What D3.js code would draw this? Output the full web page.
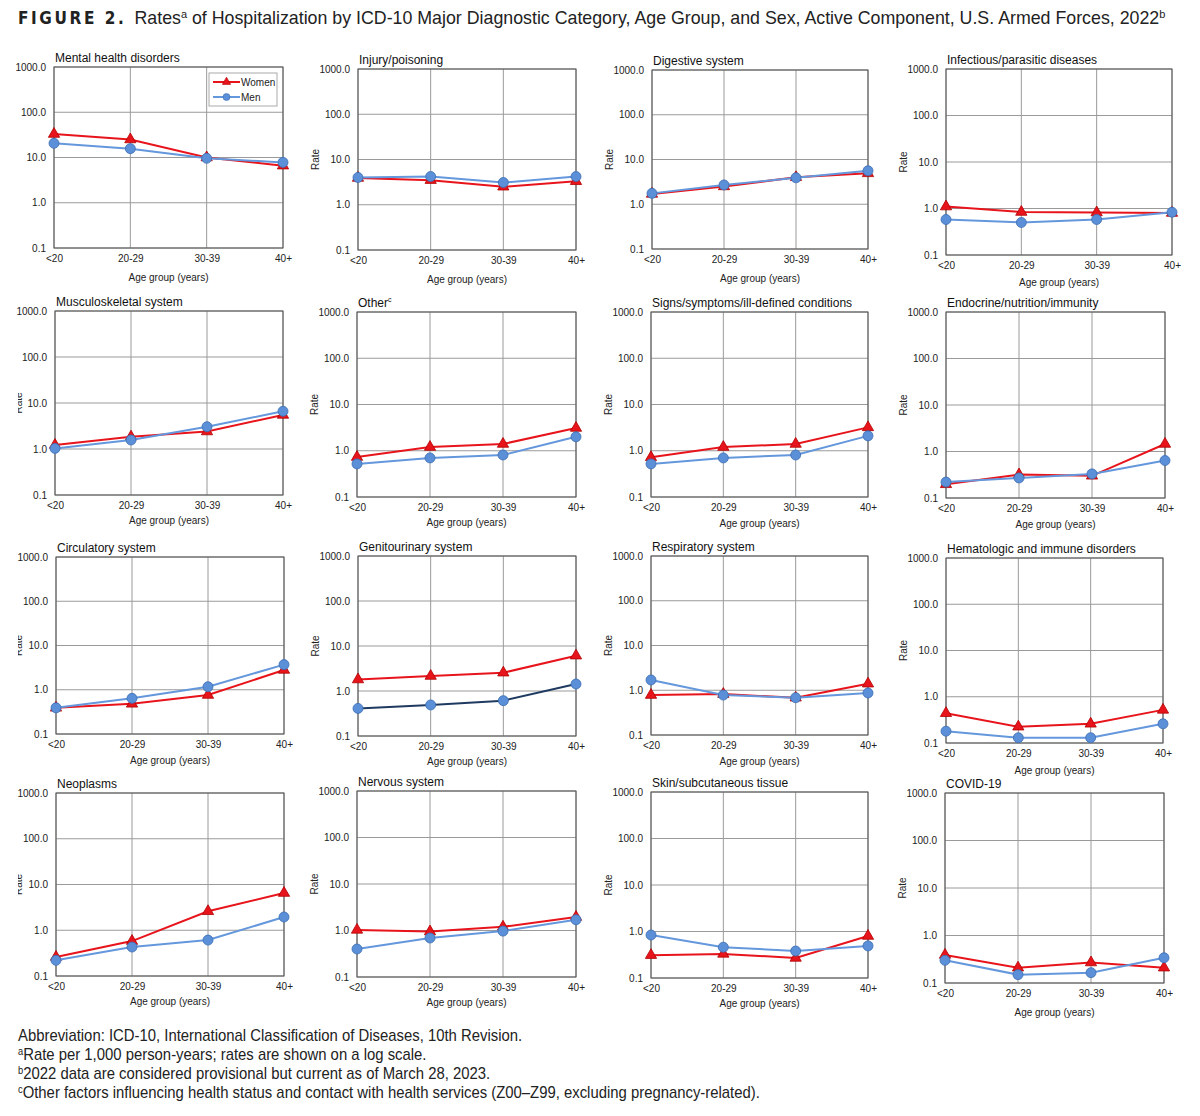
<!DOCTYPE html>
<html>
<head>
<meta charset="utf-8">
<script src="https://cdn.jsdelivr.net/npm/d3@7"></script>
<style>
  html, body { margin: 0; padding: 0; background: #fff; }
  svg { display: block; }
  .narrow { font-family: "Liberation Sans Narrow", "Arial Narrow", "Liberation Sans", Arial, sans-serif; }
  .sans { font-family: "Liberation Sans", Arial, sans-serif; }
</style>
</head>
<body>
<svg id="chart" width="1200" height="1116"></svg>
<script>
// ---------------- DATA ----------------
const ageGroups = ["<20", "20-29", "30-39", "40+"];
const seriesNames = ["Women", "Men"];
const categories = [
  "Mental health disorders", "Injury/poisoning", "Digestive system", "Infectious/parasitic diseases",
  "Musculoskeletal system", "Other", "Signs/symptoms/ill-defined conditions", "Endocrine/nutrition/immunity",
  "Circulatory system", "Genitourinary system", "Respiratory system", "Hematologic and immune disorders",
  "Neoplasms", "Nervous system", "Skin/subcutaneous tissue", "COVID-19"
];
const categoryNotes = ["", "", "", "", "", "c", "", "", "", "", "", "", "", "", "", ""];
const womenRates = [
  [33.0, 25.0, 10.0, 6.6],
  [3.9, 3.5, 2.5, 3.3],
  [1.7, 2.5, 4.0, 4.9],
  [1.1, 0.84, 0.82, 0.80],
  [1.22, 1.85, 2.4, 5.5],
  [0.73, 1.2, 1.4, 3.1],
  [0.72, 1.2, 1.4, 3.2],
  [0.197, 0.32, 0.30, 1.45],
  [0.39, 0.48, 0.76, 2.8],
  [1.8, 2.15, 2.55, 6.1],
  [0.78, 0.82, 0.68, 1.4],
  [0.44, 0.225, 0.26, 0.52],
  [0.26, 0.58, 2.6, 6.5],
  [1.03, 0.95, 1.2, 1.95],
  [0.31, 0.33, 0.27, 0.80],
  [0.39, 0.21, 0.27, 0.21]
];
const menRates = [
  [20.6, 15.7, 9.6, 7.8],
  [4.0, 4.2, 3.1, 4.2],
  [1.75, 2.7, 3.9, 5.6],
  [0.58, 0.50, 0.58, 0.83],
  [1.03, 1.57, 3.05, 6.6],
  [0.52, 0.70, 0.81, 2.0],
  [0.52, 0.70, 0.81, 2.1],
  [0.22, 0.27, 0.33, 0.64],
  [0.39, 0.64, 1.17, 3.7],
  [0.41, 0.49, 0.61, 1.43],
  [1.7, 0.78, 0.68, 0.87],
  [0.18, 0.13, 0.13, 0.26],
  [0.22, 0.43, 0.61, 1.95],
  [0.40, 0.69, 0.97, 1.7],
  [0.84, 0.46, 0.38, 0.49],
  [0.30, 0.15, 0.165, 0.34]
];
const yTickValues = [0.1, 1, 10, 100, 1000];
const yTickLabels = ["0.1", "1.0", "10.0", "100.0", "1000.0"];
const xAxisTitle = "Age group (years)";
const yAxisTitle = "Rate";
const footnotes = [
  {sup: "", text: "Abbreviation: ICD-10, International Classification of Diseases, 10th Revision."},
  {sup: "a", text: "Rate per 1,000 person-years; rates are shown on a log scale."},
  {sup: "b", text: "2022 data are considered provisional but current as of March 28, 2023."},
  {sup: "c", text: "Other factors influencing health status and contact with health services (Z00\u2013Z99, excluding pregnancy-related)."}
];

// ---------------- LAYOUT (positions only) ----------------
// [left, top, right, bottom, xTitleOffset]
const panelBoxes = [
  [54, 67, 283, 248, 33], [358, 69, 576, 250, 33], [652, 70, 868, 249, 33], [946, 69, 1172, 255, 31],
  [55, 311, 283, 495, 29], [357, 312, 576, 497, 29], [651, 312, 868, 497, 30], [946, 312, 1165, 498, 30],
  [56, 557, 284, 734, 30], [358, 556, 576, 736, 29], [651, 556, 868, 735, 30], [946, 558, 1163, 743, 31],
  [56, 793, 284, 976, 29], [357, 791, 576, 977, 29], [651, 792, 868, 978, 29], [945, 793, 1164, 983, 33]
];
const showRateLabel = [false, true, true, true, true, true, true, true, true, true, true, true, true, true, true, true];
const menLineColor = ["", "", "", "", "", "", "", "", "", "#1f3a60", "", "", "", "", "", ""];

const RED = "#e8141b", RED_DARK = "#b00000";
const BLUE = "#6497dc", BLUE_FILL = "#5b8fd8", BLUE_DARK = "#3b6db3";

const svg = d3.select("#chart");

// clip for the column-1 cut-off "Rate" labels (page coordinates)
svg.append("defs").append("clipPath").attr("id", "pageClip")
  .append("rect").attr("x", 18).attr("y", 0).attr("width", 1182).attr("height", 1116);

// ---------------- TITLE ----------------
const title = svg.append("text").attr("x", 18).attr("y", 24)
  .attr("class", "narrow").attr("font-size", 17.8).attr("fill", "#222");
title.append("tspan").attr("font-weight", "bold").attr("letter-spacing", 2.6)
  .attr("font-family", "'Liberation Sans Narrow','DejaVu Sans Condensed',sans-serif").attr("font-size", 17).text("FIGURE 2.");
title.append("tspan").attr("dx", 3).text(" Rates");
title.append("tspan").attr("font-size", 11).attr("dy", -6).text("a");
title.append("tspan").attr("dy", 6).text(" of Hospitalization by ICD-10 Major Diagnostic Category, Age Group, and Sex, Active Component, U.S. Armed Forces, 2022");
title.append("tspan").attr("font-size", 11).attr("dy", -6).text("b");

// ---------------- PANELS ----------------
const triangle = d3.symbol().type(d3.symbolTriangle).size(55);

categories.forEach((cat, i) => {
  const [L, T, R, B, xo] = panelBoxes[i];
  const w = R - L, h = B - T;
  const x = d3.scalePoint().domain(ageGroups).range([0, w]);
  const y = d3.scaleLog().domain([0.1, 1000]).range([h, 0]);
  const g = svg.append("g").attr("transform", `translate(${L},${T})`).attr("class", "sans");

  g.append("rect").attr("width", w).attr("height", h).attr("fill", "#fff");

  // gridlines
  g.append("g").selectAll("line").data(yTickValues).join("line")
    .attr("x1", 0).attr("x2", w).attr("y1", d => y(d)).attr("y2", d => y(d))
    .attr("stroke", "#9a9a9a").attr("stroke-width", 1);
  g.append("g").selectAll("line").data(ageGroups).join("line")
    .attr("x1", d => x(d)).attr("x2", d => x(d)).attr("y1", 0).attr("y2", h)
    .attr("stroke", "#9a9a9a").attr("stroke-width", 1);

  // frame
  g.append("rect").attr("width", w).attr("height", h).attr("fill", "none")
    .attr("stroke", "#555").attr("stroke-width", 1);

  // y axis
  const ya = g.append("g").call(d3.axisLeft(y).tickValues(yTickValues)
      .tickFormat((d, k) => yTickLabels[k]).tickSize(0).tickPadding(8));
  ya.select(".domain").remove();
  ya.selectAll("text").attr("font-size", 10).attr("fill", "#222")
    .attr("font-family", "'Liberation Sans', Arial, sans-serif");

  // x axis
  const xa = g.append("g").attr("transform", `translate(0,${h})`)
    .call(d3.axisBottom(x).tickSize(0).tickPadding(7));
  xa.select(".domain").remove();
  xa.selectAll("text").attr("font-size", 10).attr("fill", "#222")
    .attr("font-family", "'Liberation Sans', Arial, sans-serif");

  // axis titles
  g.append("text").attr("x", w / 2).attr("y", h + xo).attr("text-anchor", "middle")
    .attr("font-size", 10).attr("fill", "#222").text(xAxisTitle);
  if (showRateLabel[i]) {
    const firstCol = i % 4 === 0;
    const holder = svg.append("g");
    if (firstCol) holder.attr("clip-path", "url(#pageClip)");
    holder.append("text").attr("class", "sans")
      .attr("transform", `translate(${firstCol ? 22 : L - 39},${T + h / 2}) rotate(-90)`)
      .attr("text-anchor", "middle").attr("font-size", 10).attr("fill", "#222").text(yAxisTitle);
  }

  // panel title
  const pt = g.append("text").attr("x", 1).attr("y", -5).attr("font-size", 12).attr("fill", "#111").text(cat);
  if (categoryNotes[i]) pt.append("tspan").attr("font-size", 7).attr("dy", -5).text(categoryNotes[i]);

  // lines
  const line = d3.line().x((d, k) => x(ageGroups[k])).y(d => y(d));
  g.append("path").datum(womenRates[i]).attr("d", line).attr("fill", "none")
    .attr("stroke", RED).attr("stroke-width", 2);
  g.selectAll(".tri").data(womenRates[i]).join("path").attr("class", "tri")
    .attr("d", triangle)
    .attr("transform", (d, k) => `translate(${x(ageGroups[k])},${y(d)})`)
    .attr("fill", RED).attr("stroke", RED_DARK).attr("stroke-width", 0.8);

  g.append("path").datum(menRates[i]).attr("d", line).attr("fill", "none")
    .attr("stroke", menLineColor[i] || BLUE).attr("stroke-width", 2);
  g.selectAll(".dot").data(menRates[i]).join("circle").attr("class", "dot")
    .attr("cx", (d, k) => x(ageGroups[k])).attr("cy", d => y(d)).attr("r", 5)
    .attr("fill", BLUE_FILL).attr("stroke", BLUE_DARK).attr("stroke-width", 0.8);

  // legend in first panel
  if (i === 0) {
    const lg = g.append("g").attr("transform", `translate(${209 - L},${73 - T})`);
    lg.append("rect").attr("width", 68).attr("height", 33).attr("fill", "#fff")
      .attr("stroke", "#aaa").attr("stroke-width", 1);
    [[RED, "tri"], [BLUE, "dot"]].forEach(([c, type], k) => {
      const yy = 9 + k * 15;
      lg.append("line").attr("x1", 4).attr("x2", 31).attr("y1", yy).attr("y2", yy)
        .attr("stroke", c).attr("stroke-width", 2);
      if (type === "tri") {
        lg.append("path").attr("d", d3.symbol().type(d3.symbolTriangle).size(30))
          .attr("transform", `translate(17.5,${yy})`).attr("fill", RED).attr("stroke", RED_DARK).attr("stroke-width", 0.6);
      } else {
        lg.append("circle").attr("cx", 17.5).attr("cy", yy).attr("r", 3.5)
          .attr("fill", BLUE_FILL).attr("stroke", BLUE_DARK).attr("stroke-width", 0.6);
      }
      lg.append("text").attr("x", 32).attr("y", yy + 3.5).attr("font-size", 10).attr("fill", "#222").text(seriesNames[k]);
    });
  }
});

// ---------------- FOOTNOTES ----------------
footnotes.forEach((f, k) => {
  const t = svg.append("g").attr("transform", `translate(18,${1041 + k * 19}) scale(0.93,1)`)
    .append("text").attr("class", "narrow").attr("x", 0).attr("y", 0)
    .attr("font-size", 16).attr("fill", "#222");
  if (f.sup) t.append("tspan").attr("font-size", 10).attr("dy", -5).text(f.sup);
  t.append("tspan").attr("dy", f.sup ? 5 : 0).text(f.text);
});
</script>
</body>
</html>
